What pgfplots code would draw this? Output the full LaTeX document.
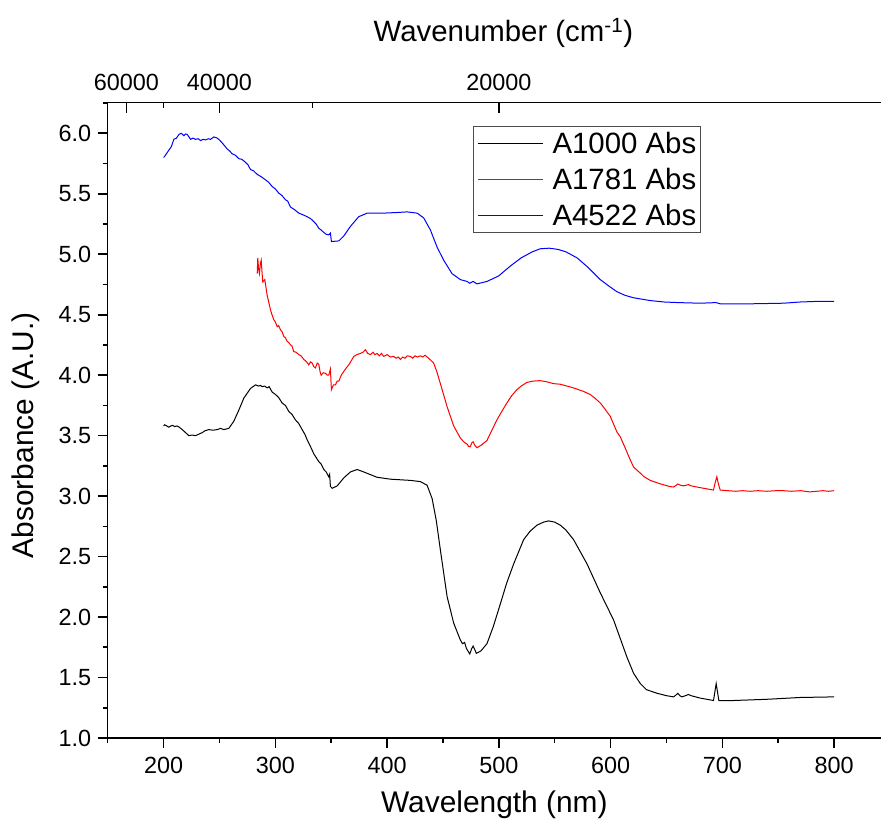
\documentclass[border=0pt]{standalone}
\usepackage{fontspec}
\setmainfont{Liberation Sans}
\usepackage{pgfplots}
\usepackage{pgfplotstable}
\pgfplotsset{compat=1.18}
\usetikzlibrary{calc}

% Absorbance spectra (wavelength in nm, absorbance in A.U.)
\pgfplotstableread{
nm A
200 3.58
201 3.59
204.7 3.57
206.5 3.58
208 3.585
210 3.575
212 3.58
214 3.57
216.7 3.55
222.6 3.50
225.5 3.505
228.6 3.50
231 3.51
234.6 3.525
237 3.54
240.5 3.55
244 3.545
248 3.55
251 3.56
253.9 3.55
258.4 3.56
262.9 3.62
267.3 3.71
271.8 3.81
277.8 3.89
282.3 3.92
285 3.91
286.7 3.915
288.3 3.905
290.5 3.91
292.7 3.895
294.5 3.905
297.2 3.86
300.2 3.84
303 3.815
306.1 3.77
309 3.75
312.1 3.70
315 3.675
318.0 3.63
321 3.60
324.0 3.55
326.5 3.51
328.5 3.465
331 3.42
334.4 3.35
336.5 3.32
338.9 3.285
341 3.265
343.4 3.22
345.5 3.20
347.8 3.16
348.6 3.18
349.3 3.08
350.9 3.065
355.3 3.084
361.2 3.15
367.2 3.20
373.2 3.22
379.1 3.20
391 3.156
403 3.14
420.9 3.13
429.8 3.12
435.8 3.09
440.3 2.98
444 2.80
447.7 2.555
453.7 2.17
459.6 1.95
465.6 1.81
467.5 1.78
469.4 1.79
471 1.74
474 1.695
475.8 1.74
477 1.76
478.5 1.73
479.9 1.70
484 1.72
489.4 1.78
495 1.92
501.4 2.11
507 2.28
513.3 2.44
522.2 2.64
528 2.71
534.2 2.76
540 2.785
544.6 2.795
550 2.785
555 2.76
560 2.72
566.9 2.64
578.9 2.44
590.8 2.20
602.7 1.976
614.6 1.67
620.6 1.535
626.6 1.45
632 1.40
641.5 1.37
650 1.35
656.3 1.34
658.5 1.355
660.2 1.37
662 1.35
663.8 1.34
667 1.35
669.7 1.36
672 1.35
680.2 1.33
692.1 1.31
693.3 1.38
694.5 1.45
695.7 1.38
696.9 1.31
710 1.31
739.8 1.32
769.6 1.335
800 1.34
}\tblA

\pgfplotstableread{
nm A
283.8 4.84
284.3 4.97
285 4.88
285.8 4.84
286.6 4.92
287.4 4.95
288.1 4.85
288.8 4.77
290.6 4.79
292.7 4.66
295.7 4.54
297 4.50
298.6 4.46
300 4.44
301.7 4.40
303 4.41
304.6 4.375
306 4.36
307.6 4.32
309 4.31
310.6 4.28
312 4.27
313.6 4.25
315 4.24
316.5 4.195
318.5 4.19
321 4.17
323 4.16
325.5 4.13
328 4.11
330 4.085
331.5 4.11
333 4.10
334.5 4.07
335.9 4.06
337.5 4.10
338.9 4.09
340 4.03
341 4.00
343 4.02
344.9 4.015
346.5 4.00
347.8 4.00
349.3 4.05
349.8 3.95
350.2 3.88
352 3.92
353.8 3.92
355.3 3.95
356.8 3.95
359 4.00
361.2 4.03
363.5 4.06
365.7 4.085
368 4.12
370.2 4.155
373 4.17
376.2 4.18
378.5 4.19
380.6 4.21
382.7 4.18
385.1 4.17
387.5 4.19
389 4.17
391.1 4.18
393 4.16
395 4.18
397 4.155
400 4.17
403 4.15
405.9 4.155
408 4.14
410 4.15
411.9 4.13
414 4.15
416 4.14
418 4.16
420.9 4.155
423 4.14
425 4.16
427 4.15
429.8 4.16
432 4.15
434 4.165
437.2 4.14
441.7 4.10
444.5 4.03
447.7 3.93
453.7 3.74
459.6 3.58
465.6 3.48
468.5 3.45
469.8 3.44
471.6 3.43
473 3.41
474.5 3.41
475.8 3.44
477 3.45
478.5 3.42
480.5 3.40
484 3.42
489.4 3.46
493 3.53
498.3 3.63
502 3.69
507.2 3.77
511.5 3.83
516.1 3.88
520 3.91
525.1 3.94
530 3.95
537 3.955
543 3.945
549 3.93
555 3.925
560.9 3.91
565 3.90
569.9 3.885
576 3.865
581.8 3.84
586 3.81
590.8 3.77
595 3.72
599.7 3.66
605.7 3.53
608.7 3.49
613 3.40
617.6 3.30
620.6 3.24
626.6 3.19
630 3.16
635.5 3.13
645 3.10
652.7 3.08
656.3 3.075
658 3.085
660.2 3.10
662.5 3.09
665.2 3.085
667.5 3.09
669.7 3.095
672 3.085
680.2 3.07
692.1 3.05
693.3 3.10
695.1 3.16
696.5 3.10
698.1 3.05
705 3.045
712 3.04
718 3.045
724.9 3.04
732 3.045
740 3.04
748 3.045
754.7 3.045
762 3.04
770 3.045
778 3.035
784.5 3.04
790 3.045
795 3.04
800 3.045
}\tblB

\pgfplotstableread{
nm A
200 5.80
201 5.81
204.7 5.86
207 5.89
209.2 5.95
211.5 5.96
213.7 5.99
215.8 6.00
218.2 5.98
219.7 5.995
221.2 5.99
222.7 5.97
224.1 5.95
226.4 5.96
228.6 5.95
231 5.955
233.1 5.94
235.4 5.95
237.6 5.945
240 5.955
242 5.95
245 5.97
248 5.96
250 5.945
252.5 5.92
257 5.87
259 5.855
261.4 5.83
264 5.82
267.3 5.79
270 5.785
273.3 5.76
275.5 5.74
277.8 5.70
280.5 5.69
283.8 5.66
287.5 5.64
291.2 5.615
294 5.595
297.2 5.56
300 5.54
303.1 5.505
306 5.485
309.1 5.45
311 5.44
313.6 5.39
317 5.37
321 5.34
325 5.325
328.5 5.31
331.5 5.295
334.4 5.27
336.5 5.25
338.9 5.215
341 5.20
343.4 5.18
345.5 5.165
347.8 5.16
349.3 5.175
350.2 5.105
356.8 5.11
361.2 5.15
367.2 5.23
374.6 5.31
382.2 5.34
397 5.34
409 5.345
417.9 5.35
426.9 5.34
432.8 5.30
438.8 5.20
444.7 5.06
450.7 4.95
458.1 4.84
465.6 4.79
471.6 4.775
474 4.76
477 4.775
480.5 4.755
489.4 4.775
499.8 4.82
510 4.90
520 4.97
530 5.02
537 5.045
545 5.05
553 5.04
560 5.02
570 4.97
580 4.89
590.8 4.79
598 4.74
605.7 4.69
613 4.66
620.6 4.64
635.5 4.617
648 4.605
660.9 4.60
680.2 4.595
694.5 4.60
698.1 4.59
724.9 4.59
754.7 4.595
769.6 4.605
784.5 4.61
800 4.61
}\tblC

\newcommand{\ticksize}{\fontsize{23.5}{27}\selectfont}
\newcommand{\labelsize}{\fontsize{30}{34}\selectfont}
\newcommand{\titlesize}{\fontsize{29.5}{34}\selectfont}
\newcommand{\legendsize}{\fontsize{29.5}{34}\selectfont}

\begin{document}
\begin{tikzpicture}
\pgfplotsset{
  common/.style={
    scale only axis, width=773.3bp, height=635.3bp,
    xmin=150, xmax=842, ymin=1, ymax=6.253,
    axis line style={line width=1.6bp, black},
    tick style={line width=1.6bp, black},
    major tick length=10bp, minor tick length=5bp,
    ticklabel style={font=\ticksize},
    /pgf/number format/assume math mode=true,
  }
}
\begin{axis}[
  common, name=main,
  axis x line*=bottom, axis y line*=left,
  tick align=outside,
  xtick={200,300,...,800},
  minor xtick={150,250,...,750},
  ytick={1,1.5,...,6},
  minor ytick={1.25,1.75,...,6.25},
  xticklabel style={yshift=-6bp},
  yticklabel shift=3bp,
  yticklabel style={/pgf/number format/.cd, fixed, fixed zerofill, precision=1},
  xlabel={Wavelength (nm)},
  ylabel={Absorbance (A.U.)},
  every axis x label/.style={at={(axis description cs:0.5,0)}, anchor=center, yshift=-67bp, font=\labelsize},
  every axis y label/.style={at={(axis description cs:0,0.5)}, xshift=-82bp, yshift=-15bp, rotate=90, anchor=center, font=\labelsize},
  legend style={at={(axis description cs:0.4724,0.9633)}, anchor=north west,
    draw=black!70, line width=0.8bp, font=\legendsize,
    nodes={inner sep=0bp},
    inner xsep=4bp, inner ysep=5.5bp, row sep=13.5bp, column sep=9bp,
    cells={anchor=west}},
  legend image code/.code={%
    \path (0bp,0bp) -- (3bp,0bp);
    \draw[#1, line width=1.2bp] (3bp,0bp) -- (65bp,0bp);},
]
\addplot[black, line width=1bp] table[x=nm, y=A] {\tblA};
\addlegendentry{A1000 Abs}
\addplot[red, line width=1bp] table[x=nm, y=A] {\tblB};
\addlegendentry{A1781 Abs}
\addplot[blue, line width=1bp] table[x=nm, y=A] {\tblC};
\addlegendentry{A4522 Abs}
\end{axis}

% wavenumber scale along the top edge (ticks at 10^7 / wavenumber)
\begin{axis}[
  common,
  axis x line*=top, axis y line=none,
  tick align=inside,
  xtick={166.667,250,500},
  xticklabels={60000,40000,20000},
  minor xtick={200,333.333},
  xticklabel style={yshift=8bp},
  xlabel={Wavenumber (cm\textsuperscript{-1})},
  every axis x label/.style={at={(axis description cs:0.5,1)}, anchor=center, xshift=9bp, yshift=70bp, font=\titlesize},
]
\end{axis}

\pgfresetboundingbox
\path ($(main.south west)+(-107.7bp,-95bp)$) rectangle ($(main.north east)+(0bp,102.7bp)$);
\end{tikzpicture}
\end{document}
